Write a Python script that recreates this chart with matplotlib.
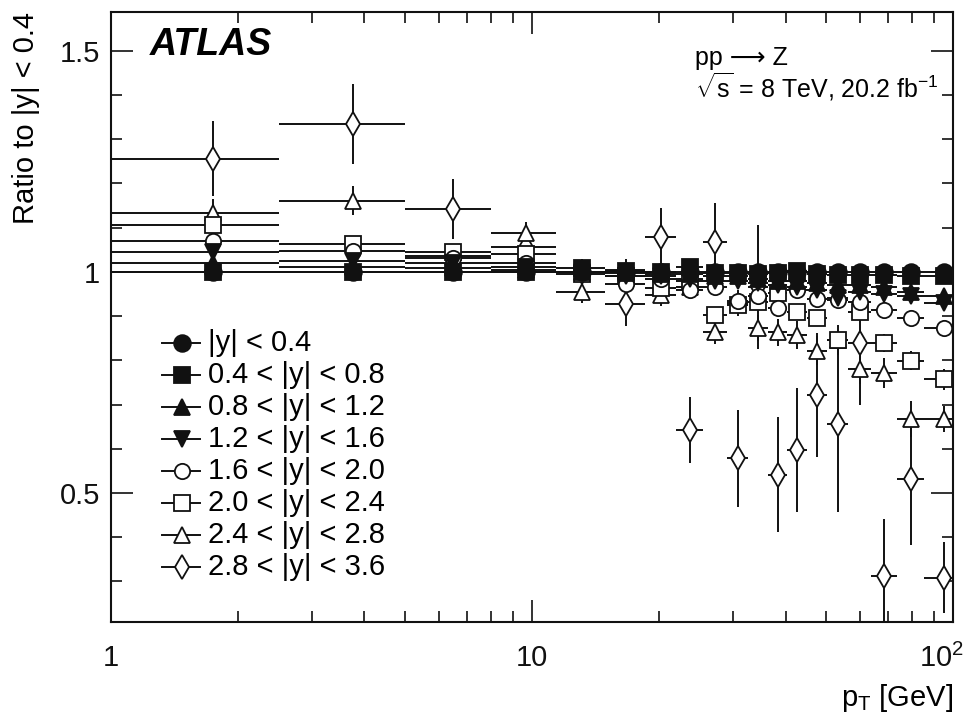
import numpy as np
import matplotlib
matplotlib.use("Agg")
import matplotlib.pyplot as plt
import matplotlib.transforms as mtransforms
from matplotlib.ticker import FixedLocator, FixedFormatter, LogLocator, MultipleLocator, NullFormatter

plt.rcParams['font.family'] = ['Liberation Sans', 'DejaVu Sans']
plt.rcParams['mathtext.fontset'] = 'custom'
plt.rcParams['mathtext.rm'] = 'Liberation Sans'
plt.rcParams['mathtext.it'] = 'Liberation Sans:italic'
plt.rcParams['mathtext.bf'] = 'Liberation Sans:bold'

## data (ratio to |y| < 0.4)
pt_edges = [1.0, 2.5, 5.0, 8.0, 11.4, 14.9, 18.5, 22.0, 25.5, 29.0, 32.6,
            36.4, 40.4, 44.9, 50.2, 56.4, 63.9, 73.4, 85.4, 105.0]

labels = ["|y| < 0.4", "0.4 < |y| < 0.8", "0.8 < |y| < 1.2", "1.2 < |y| < 1.6",
          "1.6 < |y| < 2.0", "2.0 < |y| < 2.4", "2.4 < |y| < 2.8", "2.8 < |y| < 3.6"]

r_y00 = [1.0, 1.0, 1.0, 1.0, 1.0, 1.0, 1.0, 1.0, 1.0, 1.0,
         1.0, 1.0, 1.0, 1.0, 1.0, 1.0, 1.0, 1.0, 1.0]
r_y04 = [1.0, 1.0, 1.0, 1.0, 1.009, 1.003, 1.0, 1.012, 0.998, 0.997,
         0.996, 0.997, 1.003, 0.995, 0.993, 0.993, 0.994, 0.99, 0.99]
r_y08 = [1.02, 1.012, 1.008, 1.005, 1.0, 0.998, 0.995, 0.995, 0.99, 0.99,
         0.985, 0.98, 0.98, 0.975, 0.97, 0.97, 0.965, 0.955, 0.945]
r_y12 = [1.044, 1.025, 1.02, 1.012, 1.0, 0.99, 0.99, 0.985, 0.98, 0.98,
         0.975, 0.97, 0.965, 0.96, 0.94, 0.955, 0.95, 0.945, 0.93]
r_y16 = [1.070, 1.048, 1.031, 1.020, 1.0, 0.973, 0.985, 0.959, 0.965, 0.935,
         0.945, 0.918, 0.959, 0.939, 0.937, 0.931, 0.914, 0.895, 0.873]
r_y20 = [1.107, 1.064, 1.046, 1.041, 0.995, 0.99, 0.964, 0.98, 0.903, 0.925,
         0.931, 0.952, 0.910, 0.895, 0.846, 0.910, 0.839, 0.799, 0.757]
r_y24 = [1.134, 1.161, 1.035, 1.088, 0.955, 1.005, 0.948, 0.965, 0.865, 0.93,
         0.873, 0.863, 0.857, 0.822, 0.846, 0.78, 0.771, 0.667, 0.667]
r_y28 = [1.256, 1.334, 1.143, 1.057, 1.0, 0.928, 1.080, 0.643, 1.067, 0.578,
         0.965, 0.541, 0.597, 0.722, 0.656, 0.839, 0.311, 0.532, 0.308]

e_y00 = [0.0, 0.0, 0.0, 0.0, 0.0, 0.0, 0.0, 0.0, 0.0, 0.0,
         0.0, 0.0, 0.0, 0.0, 0.0, 0.0, 0.0, 0.0, 0.0]
e_y04 = [0.004, 0.004, 0.005, 0.005, 0.006, 0.006, 0.006, 0.007, 0.007, 0.007,
         0.008, 0.008, 0.008, 0.009, 0.009, 0.01, 0.01, 0.01, 0.011]
e_y08 = [0.005, 0.005, 0.005, 0.006, 0.006, 0.007, 0.007, 0.007, 0.008, 0.008,
         0.008, 0.009, 0.009, 0.01, 0.01, 0.011, 0.011, 0.012, 0.012]
e_y12 = [0.006, 0.006, 0.006, 0.007, 0.007, 0.008, 0.008, 0.009, 0.009, 0.01,
         0.01, 0.011, 0.011, 0.012, 0.012, 0.013, 0.013, 0.014, 0.015]
e_y16 = [0.008, 0.008, 0.008, 0.009, 0.009, 0.01, 0.01, 0.011, 0.011, 0.012,
         0.012, 0.013, 0.013, 0.014, 0.014, 0.015, 0.016, 0.017, 0.018]
e_y20 = [0.012, 0.012, 0.012, 0.013, 0.013, 0.014, 0.014, 0.015, 0.015, 0.016,
         0.016, 0.017, 0.018, 0.018, 0.019, 0.02, 0.021, 0.022, 0.024]
e_y24 = [0.03, 0.033, 0.025, 0.025, 0.025, 0.025, 0.026, 0.027, 0.028, 0.03,
         0.03, 0.031, 0.032, 0.033, 0.034, 0.034, 0.034, 0.04, 0.03]
e_y28 = [0.085, 0.09, 0.068, 0.025, 0.03, 0.05, 0.065, 0.075, 0.09, 0.11,
         0.14, 0.13, 0.14, 0.14, 0.2, 0.14, 0.13, 0.15, 0.08]

ratios = [r_y00, r_y04, r_y08, r_y12, r_y16, r_y20, r_y24, r_y28]
errors = [e_y00, e_y04, e_y08, e_y12, e_y16, e_y20, e_y24, e_y28]

## marker styles
markers = ['o', 's', '^', 'v', 'o', 's', '^', 'd']
filled = [True, True, True, True, False, False, False, False]
msizes = [12, 12, 12, 12, 11, 12, 12, 12]

edges = np.array(pt_edges)
pt = 0.5 * (edges[:-1] + edges[1:])
xerr = [pt - edges[:-1], edges[1:] - pt]

fig = plt.figure(figsize=(9.72, 7.22), dpi=100)
ax = fig.add_axes([0.1142, 0.1385, 0.8663, 0.8449])

for i in range(len(ratios)):
    y = np.array(ratios[i])
    e = np.array(errors[i])
    ax.errorbar(pt, y, xerr=xerr, yerr=e if e.any() else None, fmt='none',
                ecolor='#111111', elinewidth=1.4, capsize=0, zorder=2)
# open markers first, filled on top
order = [7, 6, 5, 4, 1, 0, 2, 3]
for k, i in enumerate(order):
    ax.plot(pt, ratios[i], linestyle='none', marker=markers[i], ms=msizes[i],
            mfc='#111111' if filled[i] else 'white', mec='#111111', mew=1.3,
            zorder=3 + 0.1 * k)

ax.set_xscale('log')
ax.set_xlim(1, 100)
ax.set_ylim(0.208, 1.588)

ax.xaxis.set_major_locator(FixedLocator([1, 10, 100]))
ax.xaxis.set_major_formatter(FixedFormatter(['1', '10', r'$\mathregular{10^{2}}$']))
ax.xaxis.set_minor_locator(LogLocator(base=10, subs=np.arange(2, 10)))
ax.xaxis.set_minor_formatter(NullFormatter())
ax.yaxis.set_major_locator(FixedLocator([0.5, 1.0, 1.5]))
ax.yaxis.set_major_formatter(FixedFormatter(['0.5', '1', '1.5']))
ax.yaxis.set_minor_locator(MultipleLocator(0.1))

ax.tick_params(which='both', direction='in', top=True, right=True, width=1.2,
               labelsize=21, colors='#111111')
ax.tick_params(axis='x', which='major', length=16, pad=16)
ax.tick_params(axis='y', which='major', length=16, pad=8)
ax.tick_params(which='minor', length=8)
for s in ax.spines.values():
    s.set_linewidth(1.5)
    s.set_color('#111111')

# keep the 10^2 label inside the canvas, as in the original
fig.canvas.draw()
last = ax.get_xticklabels()[-1]
last.set_transform(last.get_transform() +
                   mtransforms.ScaledTranslation(-8 / 72, 0, fig.dpi_scale_trans))

ax.set_xlabel(r'$\mathregular{p_{T}}$ [GeV]', loc='right', fontsize=21, labelpad=6)
ax.set_ylabel('Ratio to |y| < 0.4', loc='top', fontsize=21, labelpad=14)

ax.text(0.046, 0.946, 'ATLAS', transform=ax.transAxes, fontsize=27,
        fontweight='bold', fontstyle='italic', va='center', ha='left')
ax.text(0.694, 0.925, 'pp \u27f6 Z', transform=ax.transAxes, fontsize=18,
        va='center', ha='left')
ax.text(0.694, 0.878, r'$\sqrt{\mathregular{s}}$ = 8 TeV, 20.2 fb$^{\mathregular{-1}}$',
        transform=ax.transAxes, fontsize=18, va='center', ha='left')

## legend (drawn by hand, ROOT style)
y0, dy = 0.458, 0.0525
for i, lab in enumerate(labels):
    yy = y0 - i * dy
    ax.plot([0.0606, 0.1057], [yy, yy], transform=ax.transAxes, color='#111111',
            lw=1.4, zorder=5, clip_on=False)
    ax.plot([0.0843], [yy], transform=ax.transAxes, linestyle='none',
            marker=markers[i], ms=msizes[i],
            mfc='#111111' if filled[i] else 'white', mec='#111111', mew=1.3,
            zorder=6, clip_on=False)
    ax.text(0.115, yy, lab, transform=ax.transAxes, fontsize=21,
            va='center', ha='left')

fig.savefig('out.png', dpi=100)
